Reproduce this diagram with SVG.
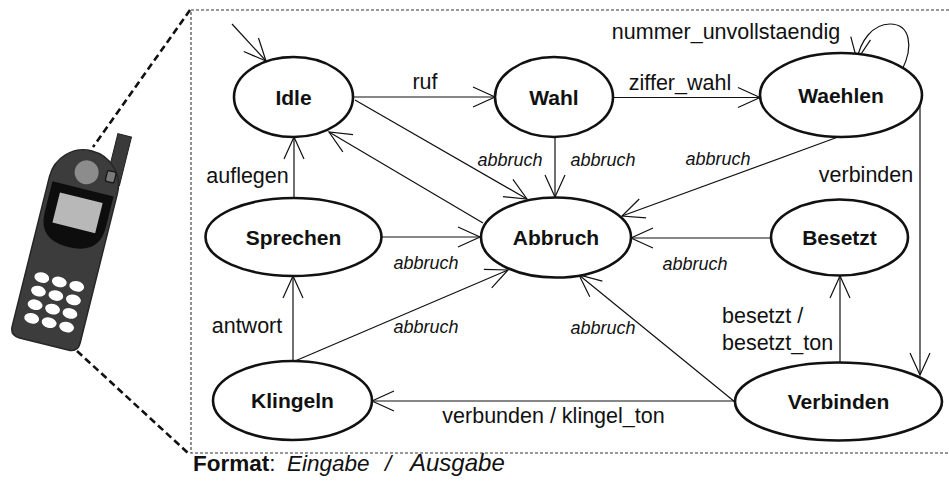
<svg xmlns="http://www.w3.org/2000/svg" width="949" height="490" viewBox="0 0 949 490">
  <style>
    .state { fill: #ffffff; stroke: #111111; stroke-width: 2.6; }
    .name { font-family: "Liberation Sans", Arial, sans-serif; font-weight: bold; font-size: 21px; fill: #111111; text-anchor: middle; }
    .lbl { font-family: "Liberation Sans", Arial, sans-serif; font-size: 21.5px; fill: #111111; }
    .ev { font-family: "Liberation Sans", Arial, sans-serif; font-style: italic; font-size: 18px; fill: #111111; text-anchor: middle; }
    .edge { fill: none; stroke: #111111; stroke-width: 1.2; marker-end: url(#arrow); }
    .mid { text-anchor: middle; }
  </style>
  <defs>
    <marker id="arrow" markerUnits="userSpaceOnUse" markerWidth="24" markerHeight="22" refX="22" refY="10" orient="auto" overflow="visible">
      <path d="M0,0 L22,10 L0,20" fill="none" stroke="#111111" stroke-width="1.2"/>
    </marker>
  </defs>

  <rect x="0" y="0" width="949" height="490" fill="#ffffff"/>

  <!-- mobile phone -->
  <g id="phone" transform="translate(68,247) rotate(14)">
    <rect x="21" y="-122" width="14" height="50" fill="#3a3a3a" stroke="#222222" stroke-width="1"/>
    <path d="M-35,-64 A35,35 0 0 1 35,-64 L35,90 Q35,100 25,100 L-25,100 Q-35,100 -35,90 Z" fill="#3c3c3c" stroke="#262626" stroke-width="1.5"/>
    <circle cx="0" cy="-77" r="12" fill="#8c8c8c"/>
    <rect x="20" y="-84" width="9" height="11" rx="2" fill="#7a7a7a" stroke="#111111" stroke-width="1.2"/>
    <path d="M-31,-60 L32,-60 L32,-28 Q32,0 0,0 Q-31,0 -31,-28 Z" fill="#0d0d0d"/>
    <rect x="-21" y="-51" width="44" height="31" fill="#b8b8b8"/>
    <g fill="#ffffff">
      <ellipse cx="-18" cy="36" rx="7.5" ry="5.2"/>
      <ellipse cx="0" cy="36" rx="7.5" ry="5.2"/>
      <ellipse cx="18" cy="36" rx="7.5" ry="5.2"/>
      <ellipse cx="-18" cy="50" rx="7.5" ry="5.2"/>
      <ellipse cx="0" cy="50" rx="7.5" ry="5.2"/>
      <ellipse cx="18" cy="50" rx="7.5" ry="5.2"/>
      <ellipse cx="-18" cy="64" rx="7.5" ry="5.2"/>
      <ellipse cx="0" cy="64" rx="7.5" ry="5.2"/>
      <ellipse cx="18" cy="64" rx="7.5" ry="5.2"/>
      <ellipse cx="-18" cy="78" rx="7.5" ry="5.2"/>
      <ellipse cx="0" cy="78" rx="7.5" ry="5.2"/>
      <ellipse cx="18" cy="78" rx="7.5" ry="5.2"/>
    </g>
  </g>

  <!-- zoom frame -->
  <g id="frame" fill="none">
    <path d="M949,10 L191,10 L191,453 L949,453" stroke="#333333" stroke-width="1.1" stroke-dasharray="3,2"/>
    <path d="M190,10 L93,147 M77,351 L188,453" stroke="#111111" stroke-width="2.6" stroke-dasharray="7,4"/>
  </g>

  <!-- transitions -->
  <g id="connectors">
    <path class="edge" d="M232,24 L266,61"/>
    <path class="edge" d="M353,97 L495,97"/>
    <path class="edge" d="M613,97.5 L760,97.5"/>
    <path class="edge" d="M902,70 C914,46 910,24 890,24 C872,24 860,42 857,60"/>
    <path class="edge" d="M920,102 L920,375"/>
    <path class="edge" d="M838,137 L622,216"/>
    <path class="edge" d="M555,137 L555,197"/>
    <path class="edge" d="M355,100 L527,199"/>
    <path class="edge" d="M483,223 L329,132"/>
    <path class="edge" d="M294,198 L294,137"/>
    <path class="edge" d="M381,237 L480,237"/>
    <path class="edge" d="M293,361 L293,276"/>
    <path class="edge" d="M295,361 L508,270"/>
    <path class="edge" d="M735,401 L372,401"/>
    <path class="edge" d="M735,402 L579,275"/>
    <path class="edge" d="M771,238 L631,238"/>
    <path class="edge" d="M840,363 L840,276"/>
  </g>

  <!-- transition labels -->
  <g id="labels">
    <text class="lbl mid" x="425" y="89">ruf</text>
    <text class="lbl mid" x="680" y="90">ziffer_wahl</text>
    <text class="lbl mid" x="726" y="39">nummer_unvollstaendig</text>
    <text class="lbl mid" x="866" y="182">verbinden</text>
    <text class="lbl mid" x="247.5" y="183">auflegen</text>
    <text class="lbl mid" x="247" y="333">antwort</text>
    <text class="lbl" x="722" y="323">besetzt /</text>
    <text class="lbl" x="722" y="350">besetzt_ton</text>
    <text class="lbl mid" x="553.5" y="423">verbunden / klingel_ton</text>
    <text class="ev" x="510" y="166">abbruch</text>
    <text class="ev" x="603" y="166">abbruch</text>
    <text class="ev" x="718" y="165">abbruch</text>
    <text class="ev" x="426" y="269">abbruch</text>
    <text class="ev" x="695" y="270">abbruch</text>
    <text class="ev" x="426" y="333">abbruch</text>
    <text class="ev" x="603" y="334">abbruch</text>
  </g>

  <!-- states -->
  <g id="idle"><ellipse class="state" cx="293.5" cy="97" rx="59.5" ry="40"/><text class="name" x="293.5" y="104.5">Idle</text></g>
  <g id="wahl"><ellipse class="state" cx="554" cy="97" rx="59" ry="40"/><text class="name" x="554" y="104.5">Wahl</text></g>
  <g id="waehlen"><ellipse class="state" cx="841" cy="95" rx="81" ry="42"/><text class="name" x="841" y="102.5">Waehlen</text></g>
  <g id="sprechen"><ellipse class="state" cx="293.5" cy="237" rx="88" ry="39"/><text class="name" x="293.5" y="244.5">Sprechen</text></g>
  <g id="abbruch"><ellipse class="state" cx="556" cy="237.5" rx="75" ry="40"/><text class="name" x="556" y="245">Abbruch</text></g>
  <g id="besetzt"><ellipse class="state" cx="839.5" cy="237.5" rx="68.5" ry="38"/><text class="name" x="839.5" y="245">Besetzt</text></g>
  <g id="klingeln"><ellipse class="state" cx="292.5" cy="400.5" rx="79.5" ry="39.5"/><text class="name" x="292.5" y="408">Klingeln</text></g>
  <g id="verbinden"><ellipse class="state" cx="838.5" cy="401.5" rx="103.5" ry="39"/><text class="name" x="838.5" y="409">Verbinden</text></g>

  <!-- legend -->
  <text x="193" y="471" font-family="'Liberation Sans', Arial, sans-serif" font-size="22.5" fill="#111111"><tspan font-weight="bold">Format</tspan>: <tspan x="287" font-style="italic">Eingabe</tspan><tspan x="385" font-style="italic">/</tspan><tspan x="410" font-style="italic" font-size="24">Ausgabe</tspan></text>
</svg>
